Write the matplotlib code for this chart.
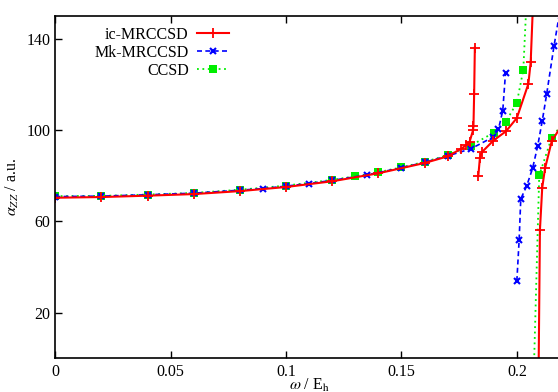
import matplotlib
matplotlib.use("Agg")
import matplotlib.pyplot as plt
import numpy as np

plt.rcParams['font.family'] = ['Liberation Serif', 'DejaVu Serif']
plt.rcParams['mathtext.fontset'] = 'stix'

# ic-MRCCSD: three branches (separated by poles)
ic_x1 = [0.0, 0.02, 0.04, 0.06, 0.08, 0.10, 0.12, 0.14, 0.16, 0.17, 0.176, 0.178, 0.1795, 0.1810, 0.1812, 0.1815, 0.1818]
ic_y1 = [70.3, 70.6, 71.2, 71.9, 73.2, 75.0, 77.5, 81.0, 85.5, 88.4, 91.8, 93.3, 94.7, 99.8, 101.6, 115.9, 136.0]
ic_x2 = [0.1833, 0.1840, 0.1849, 0.1898, 0.1953, 0.2000, 0.2050, 0.2060, 0.2075]
ic_y2 = [79.8, 87.9, 90.3, 95.3, 99.4, 105.2, 120.2, 129.7, 168.0]
ic_x3 = [0.2092, 0.2100, 0.2110, 0.2122, 0.2151, 0.2200]
ic_y3 = [-30.0, 56.1, 74.7, 83.1, 95.0, 103.0]

# Mk-MRCCSD
mk_x1 = [0.0, 0.02, 0.04, 0.06, 0.08, 0.09, 0.10, 0.11, 0.12, 0.135, 0.15, 0.16, 0.17, 0.18, 0.1898, 0.1920, 0.1939, 0.1951]
mk_y1 = [70.8, 71.0, 71.6, 72.3, 73.6, 74.3, 75.4, 76.5, 77.9, 80.3, 83.4, 85.8, 88.6, 91.7, 96.9, 100.2, 108.4, 125.1]
mk_x2 = [0.2000, 0.2010, 0.2017, 0.2042, 0.2068, 0.2090, 0.2110, 0.2129, 0.2161, 0.2200]
mk_y2 = [33.8, 51.9, 69.8, 75.3, 83.1, 92.8, 103.9, 115.5, 136.7, 160.0]

# CCSD
cc_x1 = [0.0, 0.02, 0.04, 0.06, 0.08, 0.10, 0.12, 0.13, 0.14, 0.15, 0.16, 0.17, 0.18, 0.19, 0.1951, 0.2000, 0.2028, 0.2045]
cc_y1 = [71.0, 71.1, 71.7, 72.4, 73.8, 75.6, 78.1, 79.7, 81.5, 83.6, 86.0, 88.9, 93.1, 98.8, 103.3, 111.9, 126.3, 163.0]
cc_x2 = [0.2067, 0.2097, 0.2151, 0.2200]
cc_y2 = [-30.0, 80.1, 96.6, 103.0]

labels = ['ic-MRCCSD', 'Mk-MRCCSD', 'CCSD']
x_ticks = [0, 0.05, 0.1, 0.15, 0.2]
x_ticklabels = ['0', '0.05', '0.1', '0.15', '0.2']
y_ticks = [20, 60, 100, 140]

W, H = 558, 392
fig = plt.figure(figsize=(W/100, H/100), dpi=100)
left, right, top, bottom = 55.3, 563.0, 15.7, 358.3
ax = fig.add_axes([left/W, 1 - bottom/H, (right-left)/W, (bottom-top)/H])

red, blue, green = '#ff0000', '#0000ff', '#00ee00'
kw_ic = dict(color=red, lw=1.5, ls='-', marker='+', ms=7, mew=1.3)
kw_mk = dict(color=blue, lw=1.2, ls=(0, (3, 2)), marker='x', ms=4.5, mew=1.5)
kw_cc = dict(color=green, lw=1.3, ls=(0, (1, 2)), marker='s', ms=5.5, mew=0)

ax.plot(cc_x1, cc_y1, label=labels[2], **kw_cc)
ax.plot(cc_x2, cc_y2, **kw_cc)
ax.plot(mk_x1, mk_y1, label=labels[1], **kw_mk)
ax.plot(mk_x2, mk_y2, **kw_mk)
ax.plot(ic_x1, ic_y1, label=labels[0], **kw_ic)
ax.plot(ic_x2, ic_y2, **kw_ic)
ax.plot(ic_x3, ic_y3, **kw_ic)

ax.set_xlim(0, 0.22)
ax.set_ylim(0, 150)
ax.set_xticks(x_ticks)
ax.set_xticklabels(x_ticklabels)
ax.set_yticks(y_ticks)
ax.tick_params(direction='in', length=5, width=1, labelsize=11.5, top=True, right=False)
ax.tick_params(axis='x', pad=4)
for s in ax.spines.values():
    s.set_linewidth(1.2)
ax.spines['right'].set_visible(False)

ax.set_xlabel(r'$\omega$ / E$_\mathrm{h}$', fontsize=11.5, labelpad=-2)
ax.set_ylabel(r'$\alpha_{ZZ}$ / a.u.', fontsize=11.5, labelpad=4)

handles, labs = ax.get_legend_handles_labels()
order = [2, 1, 0]
ax.legend([handles[i] for i in order], [labs[i] for i in order], loc='upper left',
          bbox_to_anchor=(0.055, 1.0), frameon=False, markerfirst=False, fontsize=11.5,
          handlelength=2.0, labelspacing=0.12, handletextpad=0.5, borderaxespad=0.3)

fig.savefig('out.png', dpi=100)
